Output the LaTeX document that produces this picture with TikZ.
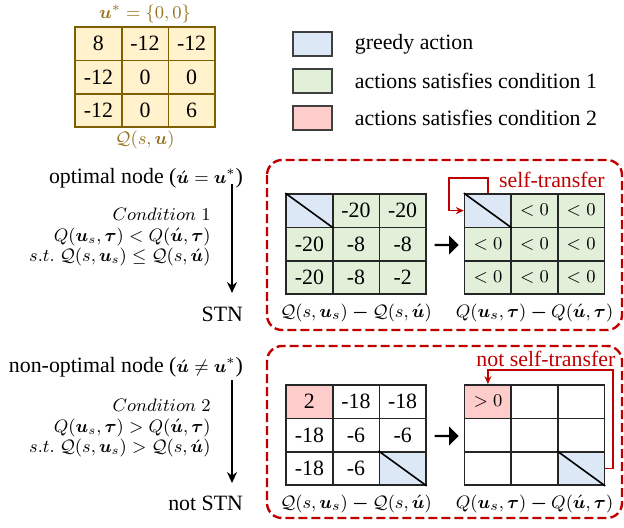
\documentclass[tikz,border=0pt]{standalone}
\usepackage{amsmath}
\usepackage[no-math]{fontspec}
\setmainfont{Liberation Serif}[Scale=1.15]
\usetikzlibrary{positioning}
\usetikzlibrary{matrix,shapes.arrows,arrows.meta}

\definecolor{qbrown}{RGB}{127,96,0}
\definecolor{qlabel}{RGB}{150,115,30}
\definecolor{qyellow}{RGB}{255,242,204}
\definecolor{gblue}{RGB}{220,232,246}
\definecolor{cgreen}{RGB}{226,240,217}
\definecolor{cpink}{RGB}{255,204,204}
\definecolor{zred}{RGB}{192,0,0}

\newcommand{\uacc}{\acute{\boldsymbol{u}}}
\newcommand{\usel}{\boldsymbol{u}_s}
\newcommand{\btau}{\boldsymbol{\tau}}
\newcommand{\bminus}{\mathbin{\boldsymbol{-}}}

\tikzset{
	every node/.style={font=\fontsize{9.5}{11.5}\selectfont},
	dcell/.style={draw=black!85, line width=0.8pt, minimum width=23.3pt, minimum height=16.7pt, inner sep=0pt, anchor=center},
	qcell/.style={dcell, draw=qbrown, fill=qyellow},
	qgrid/.style={matrix of nodes, nodes in empty cells, inner sep=0pt, column sep=-0.8pt, row sep=-0.8pt},
	legbox/.style={draw=black!75, line width=0.8pt, minimum width=19.5pt, minimum height=12pt, inner sep=0pt},
	zone/.style={draw=zred, line width=1.2pt, dash pattern=on 4.5pt off 2pt, rounded corners=7.5pt},
	flow/.style={-{Stealth[length=5.5pt,width=5pt]}, line width=0.8pt},
	xfer/.style={draw=zred, line width=0.75pt, -{Stealth[length=4pt,width=3.5pt]}},
	blk/.style={single arrow, fill=black, minimum height=12pt, minimum width=9.5pt, single arrow head extend=1.5pt, inner sep=0pt},
	diag/.style={line width=0.8pt},
	glabel/.style={inner sep=1pt},
	condtext/.style={anchor=east, align=right, inner sep=1pt, font=\fontsize{8.9}{10.3}\selectfont},
}

\begin{document}
\begin{tikzpicture}[x=0.5pt,y=-0.5pt]
	\useasboundingbox (0,0) rectangle (624,527);
	
	% Q table.....................
	\matrix (qt) [qgrid, nodes={qcell}] at (145,77) {
		8 & -12 & -12 \\
		-12 & 0 & 0 \\
		-12 & 0 & 6 \\
	};
	\node [glabel, above=0pt of qt, text=qlabel] (ustar) {$\boldsymbol{u}^*=\{0,0\}$};
	\node [glabel, below=0pt of qt, text=qlabel] (qlab) {$\mathcal{Q}(s,\boldsymbol{u})$};
	
	% legend......................
	\node [legbox, fill=gblue] (k1) at (312.5,44) {};
	\node [legbox, fill=cgreen] (k2) at (312.5,81) {};
	\node [legbox, fill=cpink] (k3) at (312.5,118) {};
	\node [right=7pt of k1] (t1) {greedy action};
	\node [right=7pt of k2] (t2) {actions satisfies condition 1};
	\node [right=7pt of k3] (t3) {actions satisfies condition 2};
	
	% optimal node...................
	\node [anchor=east] (opt) at (251,178) {optimal node ($\uacc=\boldsymbol{u}^*$)};
	\node [condtext] (cond1) at (213,237)
		{$Condition\ 1$\\ $Q(\usel,\btau)<Q(\uacc,\btau)$\\ $s.t.\ \mathcal{Q}(s,\usel)\le\mathcal{Q}(s,\uacc)$};
	\node [anchor=east] (stn) at (251,314) {STN};
	\coordinate (a1) at (232,184);
	\coordinate (b1) at (232,293);
	\draw [flow] (a1) -- (b1);
	
	\draw [zone] (267,160) rectangle (622,330);
	
	\matrix (g1) [qgrid, nodes={dcell, fill=cgreen}] at (356,244) {
		|[fill=gblue]| & -20 & -20 \\
		-20 & -8 & -8 \\
		-20 & -8 & -2 \\
	};
	\draw [diag] (g1-1-1.north west) -- (g1-1-1.south east);
	\node [glabel, below=3pt of g1] (l1) {$\mathcal{Q}(s,\usel)\bminus\mathcal{Q}(s,\uacc)$};
	
	\node [blk] (ar1) at (446,245) {};
	
	\matrix (g2) [qgrid, nodes={dcell, fill=cgreen}] at (534.5,244) {
		|[fill=gblue]| & $<0$ & $<0$ \\
		$<0$ & $<0$ & $<0$ \\
		$<0$ & $<0$ & $<0$ \\
	};
	\draw [diag] (g2-1-1.north west) -- (g2-1-1.south east);
	\node [glabel, below=3pt of g2] (l2) {$Q(\usel,\btau)\bminus Q(\uacc,\btau)$};
	
	% self-transfer
	\coordinate (s1) at (449,178);
	\draw [xfer] (g2-1-1.north) |- (s1) |- (g2-1-1.west);
	\node [anchor=west, text=zred] (self) at (491,180) {self-transfer};
	
	% non-optimal node...................
	\node [anchor=east] (nopt) at (251,367) {non-optimal node ($\uacc\neq\boldsymbol{u}^*$)};
	\node [condtext] (cond2) at (213,428)
		{$Condition\ 2$\\ $Q(\usel,\btau)>Q(\uacc,\btau)$\\ $s.t.\ \mathcal{Q}(s,\usel)>\mathcal{Q}(s,\uacc)$};
	\node [anchor=east] (nstn) at (251,503) {not STN};
	\coordinate (a2) at (232,380);
	\coordinate (b2) at (232,483);
	\draw [flow] (a2) -- (b2);
	
	\draw [zone] (267,346) rectangle (622,518);
	
	\matrix (g3) [qgrid, nodes={dcell, fill=white}] at (356,435) {
		|[fill=cpink]| 2 & -18 & -18 \\
		-18 & -6 & -6 \\
		-18 & -6 & |[fill=gblue]| \\
	};
	\draw [diag] (g3-3-3.north west) -- (g3-3-3.south east);
	\node [glabel, below=3pt of g3] (l3) {$\mathcal{Q}(s,\usel)\bminus\mathcal{Q}(s,\uacc)$};
	
	\node [blk] (ar2) at (446,436) {};
	
	\matrix (g4) [qgrid, nodes={dcell, fill=white}] at (534.5,435) {
		|[fill=cpink]| $>0$ & & \\
		& & \\
		& & |[fill=gblue]| \\
	};
	\draw [diag] (g4-3-3.north west) -- (g4-3-3.south east);
	\node [glabel, below=3pt of g4] (l4) {$Q(\usel,\btau)\bminus Q(\uacc,\btau)$};
	
	% not self-transfer
	\coordinate (s2) at (613,370);
	\draw [xfer] (g4-3-3.east) -| (s2) -| (g4-1-1.north);
	\node [anchor=west, text=zred, inner sep=1pt] (nself) at (474,359) {not self-transfer};
	
\end{tikzpicture}
\end{document}
